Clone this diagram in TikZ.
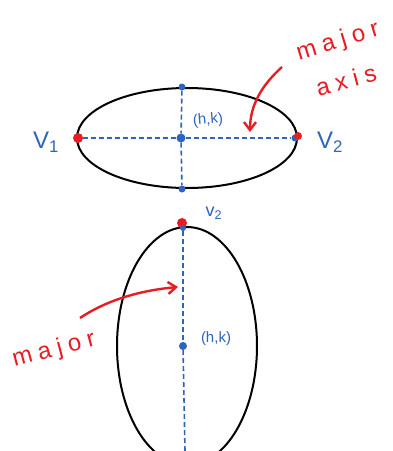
\documentclass[tikz,border=0pt]{standalone}
\usepackage{fontspec}
\setmainfont{Liberation Sans}
\newfontfamily\handwide[LetterSpace=26]{Liberation Sans}
\usetikzlibrary{shapes.geometric,arrows.meta}
\definecolor{pblue}{RGB}{45,100,190}
\definecolor{pred}{RGB}{232,28,36}
\tikzset{
  ell/.style={draw=black, line width=2pt, ellipse, inner sep=0pt},
  axisline/.style={draw=pblue, line width=1.6pt, dash pattern=on 5pt off 3pt},
  bdot/.style={circle, fill=pblue, inner sep=0pt, minimum size=7pt},
  rdot/.style={circle, fill=pred, inner sep=0pt, minimum size=10pt},
  blab/.style={text=pblue, inner sep=1pt, font=\fontsize{24}{26}\selectfont},
  hk/.style={text=pblue, inner sep=1pt, font=\fontsize{15}{17}\selectfont},
  rlabw/.style={text=pred, inner sep=0pt, font=\handwide\fontsize{24}{26}\selectfont},
  rarrow/.style={draw=pred, line width=2.4pt, -{Straight Barb[length=8pt,width=12pt]}}
}
\begin{document}
\begin{tikzpicture}[x=1pt,y=-1pt]
\useasboundingbox (0,0) rectangle (392,451);
\clip (0,0) rectangle (392,451);
\fill[white] (0,0) rectangle (392,451);
% top ellipse
\node[ell, minimum width=220pt, minimum height=100pt] (e1) at (187,138) {};
\node[bdot] (t1) at (182,87) {};
\node[bdot] (b1) at (182,189) {};
\node[bdot, minimum size=9pt] (c1) at (181,138) {};
\node[rdot] (v1) at (78,138) {};
\node[bdot] (v2b) at (295,138) {};
\node[rdot, minimum size=8pt] (v2) at (298,136) {};
\draw[axisline] (v1) -- (c1);
\draw[axisline] (c1) -- (v2b);
\draw[axisline] (t1) -- (c1);
\draw[axisline] (c1) -- (b1);
\node[blab] (lv1) at (46,142) {V\textsubscript{1}};
\node[blab] (lv2) at (330,142) {V\textsubscript{2}};
\node[hk, rotate=5] (hk1) at (208,120) {(h,k)};
\node[rlabw, rotate=17] (maj1) at (338,42) {major};
\node[rlabw, rotate=15] (ax1) at (346,80) {axis};
\coordinate (a1s) at (282,67);
\coordinate (a1e) at (250,132);
\draw[rarrow] (a1s) .. controls (262,85) and (250,105) .. (a1e);
% bottom ellipse
\node[ell, minimum width=140pt, minimum height=238pt] (e2) at (187,346) {};
\node[rdot] (v3) at (182,223) {};
\node[bdot, minimum size=6pt] (v3b) at (183,228) {};
\node[bdot, minimum size=8pt] (c2) at (183,346) {};
\coordinate (bot2) at (185,451);
\draw[axisline] (v3b) -- (c2);
\draw[axisline] (c2) -- (bot2);
\node[text=pblue, inner sep=1pt, font=\fontsize{18}{20}\selectfont] (lv3) at (214,213) {v\textsubscript{2}};
\node[hk] (hk2) at (216,339) {(h,k)};
\node[rlabw, rotate=15] (maj2) at (54,350) {major};
\coordinate (a2s) at (80,318);
\coordinate (a2e) at (178,287);
\draw[rarrow] (a2s) .. controls (110,298) and (145,290) .. (a2e);
\end{tikzpicture}
\end{document}
